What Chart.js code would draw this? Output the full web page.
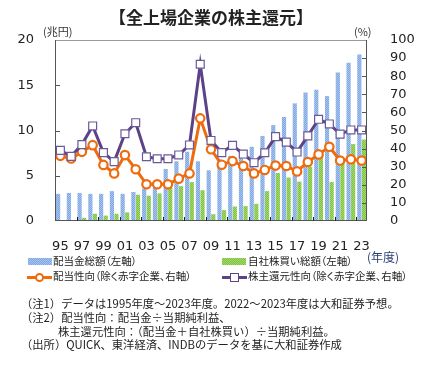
<!DOCTYPE html>
<html>
<head>
<meta charset="utf-8">
<script src="https://cdn.jsdelivr.net/npm/chart.js@4.4.1/dist/chart.umd.min.js"></script>
<style>
body { margin: 0; background: #fff; width: 428px; height: 368px; position: relative; overflow: hidden;
       font-family: "Noto Sans CJK JP", sans-serif; color: #222; }
#wrap { position: absolute; left: 0; top: 0; width: 428px; height: 252px; }
.t { position: absolute; white-space: pre; line-height: 1; }
.lg { font-size: 10.5px; font-feature-settings: "palt"; }
.nt { font-size: 11.3px; }
.mk { position: absolute; box-sizing: border-box; }
</style>
</head>
<body>
<div id="wrap"><canvas id="c" width="428" height="252"></canvas></div>

<div class="t" style="left:0;width:422px;text-align:center;top:8px;font-size:17px;font-weight:bold;">【全上場企業の株主還元】</div>
<div class="t" style="left:43px;top:26px;font-size:11px;color:#333;">(兆円)</div>
<div class="t" style="left:354px;top:26px;font-size:11px;color:#333;">(%)</div>

<!-- legend -->
<div class="mk" id="pb" style="left:28px;top:258px;width:24px;height:7px;"></div>
<div class="t lg" style="left:53px;top:256px;">配当金総額（左軸）</div>
<div class="mk" id="pg" style="left:222px;top:258px;width:24px;height:7px;"></div>
<div class="t lg" style="left:248px;top:256px;">自社株買い総額（左軸）</div>
<div class="t" style="left:367px;top:251px;font-size:12px;color:#2a3f73;">(年度)</div>

<div class="mk" style="left:27px;top:276px;width:25px;height:3px;background:#ef6c0e;"></div>
<div class="mk" style="left:35px;top:273px;width:9px;height:9px;border:2px solid #ef6c0e;border-radius:50%;background:#fff;"></div>
<div class="t lg" style="left:53px;top:271px;">配当性向（除く赤字企業、右軸）</div>
<div class="mk" style="left:222px;top:276px;width:25px;height:3px;background:#5c4287;"></div>
<div class="mk" style="left:230px;top:273px;width:9px;height:9px;border:1px solid #5c4287;background:#fff;"></div>
<div class="t lg" style="left:248px;top:271px;">株主還元性向（除く赤字企業、右軸）</div>

<!-- notes -->
<div class="t nt" style="left:21px;top:298px;">（注1）データは1995年度～2023年度。2022～2023年度は大和証券予想。</div>
<div class="t nt" style="left:21px;top:312px;">（注2）配当性向：配当金÷当期純利益、</div>
<div class="t nt" style="left:58px;top:326px;">株主還元性向：（配当金＋自社株買い）÷当期純利益。</div>
<div class="t nt" style="left:21px;top:339px;">（出所）QUICK、東洋経済、INDBのデータを基に大和証券作成</div>

<script>
const years = ['95','96','97','98','99','00','01','02','03','04','05','06','07','08','09',
               '10','11','12','13','14','15','16','17','18','19','20','21','22','23'];

// 兆円, left axis
const dividends = [3.0, 3.1, 3.1, 3.0, 3.0, 3.3, 3.0, 3.2, 3.6, 4.1, 5.75, 6.6, 7.65, 6.6, 5.6,
                   6.8, 7.2, 7.0, 8.2, 9.4, 10.6, 11.5, 13.0, 14.2, 14.5, 13.8, 16.4, 17.5, 18.4];
const buybacks = [0, 0, 0.35, 0.8, 0.6, 0.8, 0.95, 2.9, 2.8, 3.05, 3.7, 3.85, 4.3, 3.4, 0.75,
                  1.2, 1.6, 1.65, 1.9, 3.3, 5.3, 4.8, 4.35, 6.0, 7.1, 4.3, 6.4, 8.5, 9.0];

// %, right axis
const payoutRatio = [36, 34.5, 38.2, 41.9, 31, 26.3, 36.4, 28.6, 20.3, 20.3, 20.3, 23.4, 26.3, 56.7, 39.6,
                     31.1, 33.1, 30.4, 26.3, 28.2, 30.6, 30.4, 27.4, 32.6, 36.8, 41, 33.4, 34.1, 33.4];
const totalReturnRatio = [39, 35.7, 42.2, 52.5, 37.8, 32.8, 48.2, 54.3, 35.5, 34.4, 34.4, 36.5, 42, 86.6, 44.5,
                          37.8, 41.8, 37, 32.2, 37.7, 46.6, 43.6, 38.1, 47, 56.2, 53.6, 48, 50.3, 50.3];

function dotted(base, dot) {
    const p = document.createElement('canvas');
    p.width = 2; p.height = 2;
    const g = p.getContext('2d');
    g.fillStyle = base; g.fillRect(0, 0, 2, 2);
    g.fillStyle = dot; g.fillRect(0, 0, 1, 1); g.fillRect(1, 1, 1, 1);
    return p;
}
const blueTex = dotted('#7fa8e0', '#a6c4ef');
const greenTex = dotted('#7fc441', '#a3d86d');
document.getElementById('pb').style.background = 'url(' + blueTex.toDataURL() + ')';
document.getElementById('pg').style.background = 'url(' + greenTex.toDataURL() + ')';

const ctx = document.getElementById('c').getContext('2d');
const blueFill = ctx.createPattern(blueTex, 'repeat');
const greenFill = ctx.createPattern(greenTex, 'repeat');

const tickFont = { family: 'DejaVu Sans', size: 13 };

/**
 * frame + inward tick marks
 */
const framePlugin = {
    id: 'frame',
    afterDraw(chart) {
        const { ctx, chartArea: a, scales } = chart;
        ctx.save();
        ctx.lineWidth = 1;
        ctx.strokeStyle = '#9a9a9a';
        ctx.beginPath();
        ctx.moveTo(a.left, a.top + 0.5); ctx.lineTo(a.right, a.top + 0.5);
        ctx.stroke();

        ctx.strokeStyle = '#555';
        ctx.beginPath();
        ctx.moveTo(a.left + 0.5, a.top); ctx.lineTo(a.left + 0.5, a.bottom);
        ctx.moveTo(a.right - 0.5, a.top); ctx.lineTo(a.right - 0.5, a.bottom);
        ctx.moveTo(a.left, a.bottom - 0.5); ctx.lineTo(a.right, a.bottom - 0.5);
        for (const v of [5, 10, 15]) {
            const y = Math.round(scales.y.getPixelForValue(v)) + 0.5;
            ctx.moveTo(a.left, y); ctx.lineTo(a.left + 5, y);
        }
        for (let v = 10; v < 100; v += 10) {
            const y = Math.round(scales.y2.getPixelForValue(v)) + 0.5;
            ctx.moveTo(a.right - 5, y); ctx.lineTo(a.right, y);
        }
        ctx.stroke();

        ctx.strokeStyle = '#222';
        ctx.beginPath();
        for (let i = 2; i < years.length; i += 2) {
            const x = Math.round((scales.x.getPixelForValue(i - 1) + scales.x.getPixelForValue(i)) / 2) + 0.5;
            ctx.moveTo(x, a.bottom); ctx.lineTo(x, a.bottom - 4);
        }
        ctx.stroke();
        ctx.restore();
    }
};

new Chart(ctx, {
    type: 'bar',
    data: {
        labels: years,
        datasets: [
            {
                type: 'line', label: '株主還元性向（除く赤字企業、右軸）', data: totalReturnRatio, yAxisID: 'y2', order: 0,
                borderColor: '#5c4287', borderWidth: 3, pointStyle: 'rect', pointRadius: 5.6,
                pointBorderWidth: 1.2, pointBorderColor: '#6b5a98', pointBackgroundColor: '#fff', tension: 0
            },
            {
                type: 'line', label: '配当性向（除く赤字企業、右軸）', data: payoutRatio, yAxisID: 'y2', order: 1,
                borderColor: '#ef6c0e', borderWidth: 3, pointRadius: 4.2,
                pointBorderWidth: 2.2, pointBorderColor: '#ef6c0e', pointBackgroundColor: '#fff', tension: 0
            },
            {
                label: '配当金総額（左軸）', data: dividends, yAxisID: 'y', order: 2,
                backgroundColor: blueFill, categoryPercentage: 0.85, barPercentage: 0.92
            },
            {
                label: '自社株買い総額（左軸）', data: buybacks, yAxisID: 'y', order: 3,
                backgroundColor: greenFill, categoryPercentage: 0.85, barPercentage: 0.92
            }
        ]
    },
    options: {
        responsive: false,
        animation: false,
        layout: { padding: { top: 40, left: 0, right: 0, bottom: 0 } },
        plugins: { legend: { display: false }, tooltip: { enabled: false } },
        scales: {
            x: {
                grid: { display: false },
                border: { display: false },
                ticks: {
                    autoSkip: false, maxRotation: 0, padding: 10, color: '#222', font: tickFont,
                    callback: (v, i) => i % 2 === 0 ? years[i] : ''
                },
                afterFit: s => { s.height = 31; }
            },
            y: {
                position: 'left', min: 0, max: 20,
                grid: { display: false },
                border: { display: false },
                ticks: { stepSize: 5, autoSkip: false, padding: 13, color: '#222', font: tickFont },
                afterFit: s => { s.width = 55; }
            },
            y2: {
                position: 'right', min: 0, max: 100,
                grid: { display: false },
                border: { display: false },
                ticks: { stepSize: 10, autoSkip: false, padding: 15, color: '#222', font: tickFont },
                afterFit: s => { s.width = 61; }
            }
        }
    },
    plugins: [framePlugin]
});
</script>
</body>
</html>
